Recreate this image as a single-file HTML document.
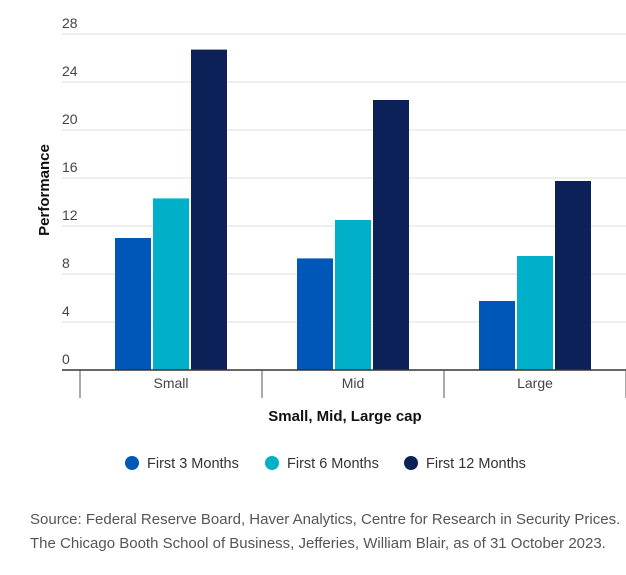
<!DOCTYPE html>
<html><head><meta charset="utf-8"><style>
body{margin:0;background:#fff;font-family:"Liberation Sans",sans-serif;}
svg text{font-family:"Liberation Sans",sans-serif;}
</style></head><body>
<svg id="chart" width="626" height="570" viewBox="0 0 626 570" xmlns="http://www.w3.org/2000/svg">
<g id="grid"></g>
<g id="bars"></g>
<g id="axes"></g>
<text transform="translate(49,190) rotate(-90)" text-anchor="middle" font-size="15" font-weight="bold" fill="#111">Performance</text>
<text x="345" y="421" text-anchor="middle" font-size="15" font-weight="bold" fill="#111">Small, Mid, Large cap</text>
<g id="legend"></g>
<text x="30" y="524" font-size="15" fill="#555">Source: Federal Reserve Board, Haver Analytics, Centre for Research in Security Prices.</text>
<text x="30" y="548" font-size="15" fill="#555">The Chicago Booth School of Business, Jefferies, William Blair, as of 31 October 2023.</text>
</svg>
<script>
const categories = ["Small", "Mid", "Large"];
const seriesNames = ["First 3 Months", "First 6 Months", "First 12 Months"];
const first3 = [11.0, 9.3, 5.75];
const first6 = [14.3, 12.5, 9.5];
const first12 = [26.7, 22.5, 15.75];
const yTicks = [0, 4, 8, 12, 16, 20, 24, 28];
const colors = ["#0057b8", "#00b0c8", "#0c2157"];
const series = [first3, first6, first12];
const NS = "http://www.w3.org/2000/svg";
const y0 = 370, pxPerUnit = 12, xStart = 80, groupW = 182, barW = 36, barGap = 2;
const y = v => y0 - v * pxPerUnit;
const xGroup = i => xStart + groupW * i + groupW / 2;
function mk(tag, attrs, parent) { const e = document.createElementNS(NS, tag); for (const k in attrs) e.setAttribute(k, attrs[k]); parent.appendChild(e); return e; }
const grid = document.getElementById("grid");
yTicks.forEach(t => {
  if (t > 0) {
    const l = mk("line", { x1: 62, x2: 626, y1: y(t), y2: y(t), stroke: "#ddd", "stroke-width": 1 }, grid);
    
    
  }
  const tx = mk("text", { x: 62, y: y(t) - 6, "font-size": 14, fill: "#444" }, grid);
  
  
  tx.textContent = t;
});
const bars = document.getElementById("bars");
categories.forEach((c, i) => {
  const cx = xGroup(i);
  series.forEach((s, j) => {
    const x = cx - (barW * 1.5 + barGap) + j * (barW + barGap);
    const r = mk("rect", { x: x, y: y(s[i]), width: barW, height: y0 - y(s[i]), fill: colors[j] }, bars);
    
    
  });
});
const axes = document.getElementById("axes");
mk("line", { x1: 62, x2: 626, y1: y0, y2: y0, stroke: "#333", "stroke-width": 1.5 }, axes);
for (let i = 0; i <= categories.length; i++) {
  const x = xStart + groupW * i;
  const t = mk("line", { x1: x, x2: x, y1: y0, y2: 398, stroke: "#555", "stroke-width": 1 }, axes);
  
  
}
categories.forEach((c, i) => {
  const t = mk("text", { x: xGroup(i), y: 388, "text-anchor": "middle", "font-size": 14, fill: "#444" }, axes);
  
  
  t.textContent = c;
});
const legend = document.getElementById("legend");
const lx = [132, 272, 411];
seriesNames.forEach((n, j) => {
  const g = mk("g", {}, legend);
  
  
  mk("circle", { cx: lx[j], cy: 463, r: 7, fill: colors[j] }, g);
  const t = mk("text", { x: lx[j] + 15, y: 468, "font-size": 14.5, fill: "#333" }, g);
  t.textContent = n;
});
</script>
</body></html>
